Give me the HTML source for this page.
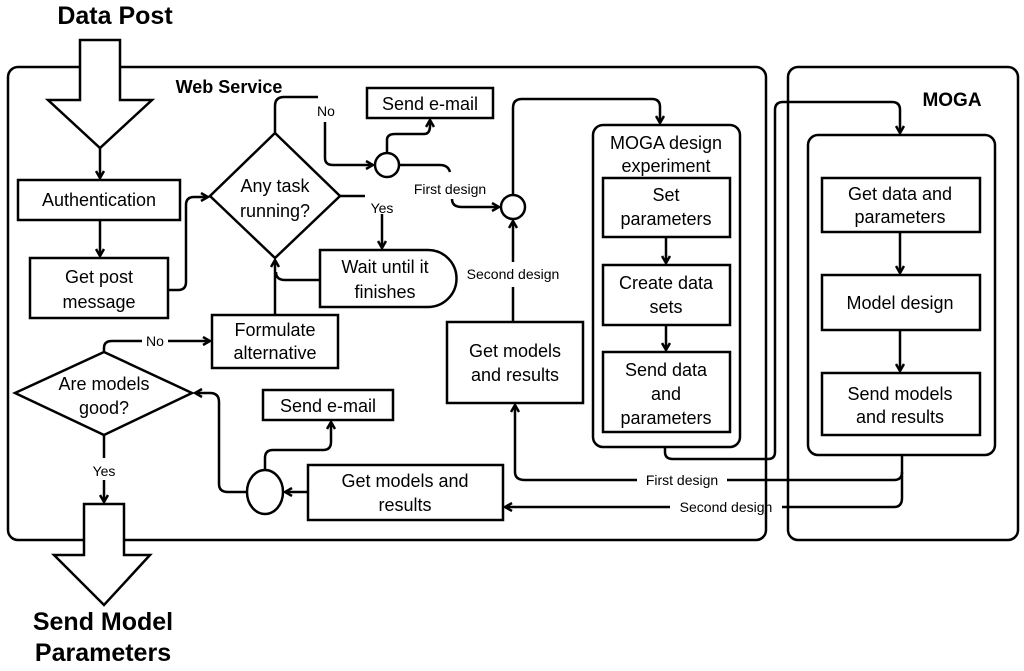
<!DOCTYPE html>
<html><head><meta charset="utf-8"><style>
html,body{margin:0;padding:0;background:#fff}
svg{display:block}
text{font-family:"Liberation Sans",Arial,sans-serif;fill:#000}
.b{font-size:18px;text-anchor:middle}
.s{font-size:14px;text-anchor:middle}
.t{font-weight:bold;text-anchor:middle}
</style></head><body>
<svg width="1024" height="671" viewBox="0 0 1024 671" xmlns="http://www.w3.org/2000/svg">
<defs><marker id="a" markerWidth="10" markerHeight="10" refX="8" refY="5" orient="auto" markerUnits="userSpaceOnUse"><path d="M1,1 L8,5 L1,9" fill="none" stroke="#000" stroke-width="2.5"/></marker></defs>
<g fill="none" stroke="#000" stroke-width="2.5">
<rect x="8" y="67" width="758" height="473" rx="10"/>
<rect x="788" y="67" width="230" height="473" rx="10"/>
<path d="M80,40 L120,40 L120,100 L152,100 L100,148 L48,100 L80,100 Z" fill="#fff"/>
<path d="M84,504 L124,504 L124,555 L150,555 L104,605 L54,555 L84,555 Z" fill="#fff"/>
<path d="M100,148 L100,178" marker-end="url(#a)"/>
<rect x="18" y="180" width="162" height="40"/>
<rect x="30" y="258" width="138" height="60"/>
<path d="M275,133 L340,196 L275,258 L210,196 Z"/>
<path d="M320,250 L428,250 A28,28 0 0 1 428,307 L320,307 Z"/>
<rect x="212" y="315" width="126" height="53"/>
<path d="M104,352 L192,393 L104,435 L15,393 Z"/>
<rect x="367" y="88" width="126" height="30"/>
<circle cx="387" cy="165" r="12"/>
<circle cx="513" cy="207" r="12"/>
<rect x="447" y="322" width="136" height="81"/>
<rect x="593" y="125" width="147" height="322" rx="10"/>
<rect x="603" y="178" width="127" height="59"/>
<rect x="603" y="265" width="127" height="60"/>
<rect x="603" y="352" width="127" height="80"/>
<rect x="808" y="135" width="187" height="320" rx="10"/>
<rect x="822" y="178" width="158" height="54"/>
<rect x="822" y="275" width="158" height="55"/>
<rect x="822" y="373" width="158" height="62"/>
<rect x="263" y="390" width="130" height="30"/>
<ellipse cx="265" cy="492" rx="18" ry="22"/>
<rect x="308" y="465" width="195" height="55"/>
<path d="M100,220 L100,256" marker-end="url(#a)"/>
<path d="M168,290 L178,290 Q186,290 186,282 L186,205 Q186,197 194,197 L208,197" marker-end="url(#a)"/>
<path d="M275,133 L275,106 Q275,97 284,97 L318,97"/>
<path d="M325,122 L325,158 Q325,165 333,165 L373,165" marker-end="url(#a)"/>
<path d="M387,153 L387,140 Q387,134 395,134 L424,134 Q430,134 430,126 L430,120" marker-end="url(#a)"/>
<path d="M399,165 L440,165 Q448,165 450,172"/>
<path d="M452,199 Q452,207 462,207 L499,207" marker-end="url(#a)"/>
<path d="M340,196 L365,196"/>
<path d="M382,214 L382,248" marker-end="url(#a)"/>
<path d="M320,280 L285,280 Q276,280 276,272"/>
<path d="M275,315 L275,260" marker-end="url(#a)"/>
<path d="M513,195 L513,108 Q513,99 522,99 L652,99 Q660,99 660,107 L660,123" marker-end="url(#a)"/>
<path d="M513,322 L513,287"/>
<path d="M513,262 L513,221" marker-end="url(#a)"/>
<path d="M666,237 L666,263" marker-end="url(#a)"/>
<path d="M666,325 L666,350" marker-end="url(#a)"/>
<path d="M665,447 L665,452 Q665,459 673,459 L768,459 Q775,459 775,452 L775,110 Q775,102 783,102 L892,102 Q900,102 900,110 L900,133" marker-end="url(#a)"/>
<path d="M900,232 L900,273" marker-end="url(#a)"/>
<path d="M900,330 L900,371" marker-end="url(#a)"/>
<path d="M902,455 L902,472 Q902,480 894,480 L727,480"/>
<path d="M637,480 L525,480 Q515,480 515,472 L515,405" marker-end="url(#a)"/>
<path d="M902,472 L902,498 Q902,507 894,507 L782,507"/>
<path d="M670,507 L505,507" marker-end="url(#a)"/>
<path d="M308,492 L285,492" marker-end="url(#a)"/>
<path d="M265,470 L265,458 Q265,450 273,450 L323,450 Q331,450 331,442 L331,422" marker-end="url(#a)"/>
<path d="M247,492 L228,492 Q219,492 219,484 L219,402 Q219,393 210,393 L195,393" marker-end="url(#a)"/>
<path d="M104,352 L104,348 Q104,341 112,341 L142,341"/>
<path d="M168,341 L210,341" marker-end="url(#a)"/>
<path d="M104,435 L104,458"/>
<path d="M104,480 L104,502" marker-end="url(#a)"/>
</g>
<text x="115" y="24" class="t" font-size="25">Data Post</text>
<text x="103" y="630" class="t" font-size="25">Send Model</text>
<text x="103" y="661" class="t" font-size="25">Parameters</text>
<text x="229" y="93" class="t" font-size="18">Web Service</text>
<text x="952" y="106" class="t" font-size="19">MOGA</text>
<text x="99" y="206" class="b">Authentication</text>
<text x="99" y="283" class="b">Get post</text>
<text x="99" y="308" class="b">message</text>
<text x="275" y="192" class="b">Any task</text>
<text x="275" y="217" class="b">running?</text>
<text x="385" y="273" class="b">Wait until it</text>
<text x="385" y="298" class="b">finishes</text>
<text x="275" y="336" class="b">Formulate</text>
<text x="275" y="359" class="b">alternative</text>
<text x="104" y="390" class="b">Are models</text>
<text x="104" y="414" class="b">good?</text>
<text x="430" y="110" class="b">Send e-mail</text>
<text x="328" y="412" class="b">Send e-mail</text>
<text x="515" y="357" class="b">Get models</text>
<text x="515" y="381" class="b">and results</text>
<text x="666" y="149" class="b">MOGA design</text>
<text x="666" y="172" class="b">experiment</text>
<text x="666" y="201" class="b">Set</text>
<text x="666" y="225" class="b">parameters</text>
<text x="666" y="289" class="b">Create data</text>
<text x="666" y="313" class="b">sets</text>
<text x="666" y="376" class="b">Send data</text>
<text x="666" y="400" class="b">and</text>
<text x="666" y="424" class="b">parameters</text>
<text x="900" y="200" class="b">Get data and</text>
<text x="900" y="223" class="b">parameters</text>
<text x="900" y="309" class="b">Model design</text>
<text x="900" y="400" class="b">Send models</text>
<text x="900" y="423" class="b">and results</text>
<text x="405" y="487" class="b">Get models and</text>
<text x="405" y="511" class="b">results</text>
<text x="326" y="116" class="s">No</text>
<text x="382" y="213" class="s">Yes</text>
<text x="450" y="194" class="s">First design</text>
<text x="513" y="279" class="s">Second design</text>
<text x="682" y="485" class="s">First design</text>
<text x="726" y="512" class="s">Second design</text>
<text x="155" y="346" class="s">No</text>
<text x="104" y="476" class="s">Yes</text>
</svg>
</body></html>
